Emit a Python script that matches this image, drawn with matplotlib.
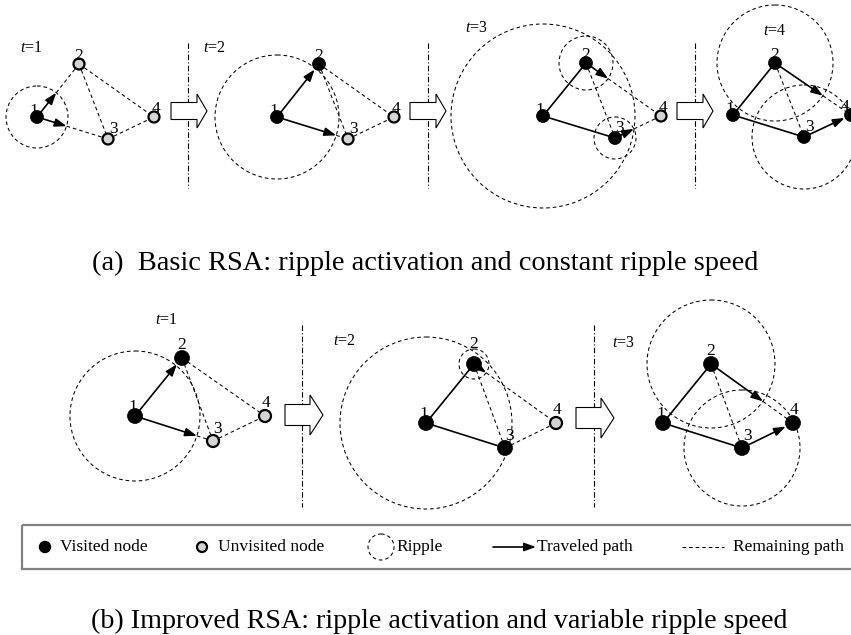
import numpy as np
import matplotlib
matplotlib.use('Agg')
import matplotlib.pyplot as plt
from matplotlib.patches import Circle, Rectangle, FancyArrowPatch, Polygon

plt.rcParams['font.family'] = ['Liberation Serif', 'DejaVu Serif']
plt.rcParams['mathtext.fontset'] = 'custom'
plt.rcParams['mathtext.it'] = 'Liberation Serif:italic'
plt.rcParams['mathtext.rm'] = 'Liberation Serif'

# ---------------- data ----------------
EDGES = [(0, 1), (0, 2), (1, 2), (1, 3), (2, 3)]
NODE_NAMES = ['1', '2', '3', '4']

# (a) basic RSA
A_TIME_LABELS = ['$t$=1', '$t$=2', '$t$=3', '$t$=4']
A_TIME_POS = [(20, 52), (203, 52), (465, 32), (763, 35)]
A_NODES = [
    [(37, 117), (79, 64), (108, 139), (154, 117)],
    [(277, 117), (319, 64), (348, 139), (394, 117)],
    [(543, 116), (586, 63), (615, 138), (661, 116)],
    [(733, 115), (775, 63), (804, 137), (851, 115)],
]
A_VISITED = [[1, 0, 0, 0], [1, 1, 0, 0], [1, 1, 1, 0], [1, 1, 1, 1]]
A_RIPPLES = [[(0, 31)], [(0, 62)], [(0, 92), (1, 27), (2, 21)], [(1, 58), (2, 52)]]
A_EDGE_STATE = [
    ['partial', 'partial', 'dash', 'dash', 'dash'],
    ['arrow', 'partial', 'dash', 'dash', 'dash'],
    ['solid', 'solid', 'dash', 'partial', 'partial'],
    ['solid', 'solid', 'dash', 'partial', 'arrow'],
]
A_SEPARATORS = [188, 428, 695]
A_BLOCK_X = [171, 410, 677]

# (b) improved RSA
B_TIME_LABELS = ['$t$=1', '$t$=2', '$t$=3']
B_TIME_POS = [(155, 324), (333, 345), (612, 347)]
B_NODES = [
    [(135, 416), (182, 358), (213, 441), (265, 416)],
    [(426, 423), (474, 364), (505, 448), (556, 423)],
    [(663, 423), (711, 364), (742, 448), (793, 423)],
]
B_VISITED = [[1, 1, 0, 0], [1, 1, 1, 0], [1, 1, 1, 1]]
B_RIPPLES = [[(0, 65)], [(0, 86), (1, 15)], [(1, 64), (2, 58)]]
B_EDGE_STATE = [
    ['arrow', 'partial', 'dash', 'dash', 'dash'],
    ['solid', 'solid', 'dash', 'partial', 'dash'],
    ['solid', 'solid', 'dash', 'partial', 'arrow'],
]
B_SEPARATORS = [302, 594]
B_BLOCK_X = [285, 576]

LEGEND_LABELS = ['Visited node', 'Unvisited node', 'Ripple', 'Traveled path', 'Remaining path']
CAPTION_A = '(a)  Basic RSA: ripple activation and constant ripple speed'
CAPTION_B = '(b) Improved RSA: ripple activation and variable ripple speed'

# ---------------- drawing ----------------
W, H = 851, 635
fig = plt.figure(figsize=(W / 100, H / 100), dpi=100)
ax = fig.add_axes([0, 0, 1, 1])
ax.set_xlim(0, W)
ax.set_ylim(H, 0)
ax.axis('off')

DASH = (0, (3.5, 2.8))
LW_DASH = 0.75
LW_SOLID = 1.2
GRAY = '#d4d4d4'

A_LABEL_OFFS = [(-3, -2), (0, -4), (5, -6), (2, -4)]
B_LABEL_OFFS = [(-2, -5), (0, -9), (5, -8), (1, -9)]


def arrow(p, q, z=4):
    a = FancyArrowPatch(p, q, arrowstyle='-|>,head_length=0.7,head_width=0.25',
                        mutation_scale=10, lw=LW_SOLID, color='black',
                        shrinkA=0, shrinkB=0, zorder=z)
    ax.add_patch(a)


def draw_panel(nodes, visited, ripples, states, r_black, r_gray, label_pos, label, offs):
    nodes = [np.array(n, float) for n in nodes]
    rip = {}
    for idx, r in ripples:
        rip[idx] = r
        ax.add_patch(Circle(nodes[idx], r, fill=False, ls=DASH, lw=LW_DASH,
                            ec='black', zorder=2))
    for (i, j), st in zip(EDGES, states):
        p, q = nodes[i], nodes[j]
        u = (q - p) / np.linalg.norm(q - p)
        if st == 'dash':
            ax.plot([p[0], q[0]], [p[1], q[1]], ls=DASH, lw=LW_DASH, color='black', zorder=3)
        elif st == 'solid':
            ax.plot([p[0], q[0]], [p[1], q[1]], lw=LW_SOLID, color='black', zorder=3)
        elif st == 'arrow':
            rj = r_black if visited[j] else r_gray
            arrow(tuple(p), tuple(q - u * (rj + 0.5)))
        elif st == 'partial':
            e = p + u * rip[i]
            arrow(tuple(p), tuple(e))
            ax.plot([e[0], q[0]], [e[1], q[1]], ls=DASH, lw=LW_DASH, color='black', zorder=3)
    for k, n in enumerate(nodes):
        if visited[k]:
            ax.add_patch(Circle(n, r_black, fc='black', ec='black', lw=0.5, zorder=5))
        else:
            ax.add_patch(Circle(n, r_gray, fc=GRAY, ec='black', lw=1.6, zorder=5))
        dx, dy = offs[k]
        # a label sitting on a small ripple is lifted above it
        if k in rip and rip[k] < 20:
            dy = -rip[k] - 1
        tx = min(n[0] + dx, W - 6)
        ax.text(tx, n[1] + dy, NODE_NAMES[k], fontsize=12.5,
                ha='center', va='baseline', zorder=6)
    ax.text(label_pos[0], label_pos[1], label, fontsize=11.5, ha='left', va='baseline')


def block_arrow(x0, cy, length, sh, hh, hl):
    pts = [(x0, cy - sh), (x0 + length - hl, cy - sh), (x0 + length - hl, cy - hh),
           (x0 + length, cy), (x0 + length - hl, cy + hh), (x0 + length - hl, cy + sh),
           (x0, cy + sh)]
    ax.add_patch(Polygon(pts, closed=True, fc='white', ec='black', lw=0.8, zorder=7))


def separator(x, y0, y1):
    ax.plot([x, x], [y0, y1], color='black', lw=0.8, ls=(0, (5, 2, 1, 2)), zorder=6)


for k in range(4):
    draw_panel(A_NODES[k], A_VISITED[k], A_RIPPLES[k], A_EDGE_STATE[k], 6.5, 5.5,
               A_TIME_POS[k], A_TIME_LABELS[k], A_LABEL_OFFS)
for x in A_SEPARATORS:
    separator(x, 43, 188)
for x in A_BLOCK_X:
    block_arrow(x, 111, 36, 8.5, 17, 10)

for k in range(3):
    draw_panel(B_NODES[k], B_VISITED[k], B_RIPPLES[k], B_EDGE_STATE[k], 7.5, 6.0,
               B_TIME_POS[k], B_TIME_LABELS[k], B_LABEL_OFFS)
for x in B_SEPARATORS:
    separator(x, 325, 507)
for x, cy in zip(B_BLOCK_X, [415, 418]):
    block_arrow(x, cy, 38, 10.5, 20, 13)

# legend
ax.add_patch(Rectangle((22, 525), 860, 44, fill=False, ec='#808080', lw=1.6, zorder=1))
ly = 547
ax.add_patch(Circle((45, ly), 5.5, fc='black', ec='black', zorder=5))
ax.text(60, ly, LEGEND_LABELS[0], fontsize=12.5, va='center', ha='left')
ax.add_patch(Circle((202, ly), 5.0, fc=GRAY, ec='black', lw=1.6, zorder=5))
ax.text(218, ly, LEGEND_LABELS[1], fontsize=12.5, va='center', ha='left')
ax.add_patch(Circle((381, ly), 13, fill=False, ec='black', ls=DASH, lw=LW_DASH))
ax.text(396, ly, LEGEND_LABELS[2], fontsize=12.5, va='center', ha='left')
arrow((493, ly), (536, ly))
ax.text(537, ly, LEGEND_LABELS[3], fontsize=12.5, va='center', ha='left')
ax.plot([682, 724], [ly, ly], ls=DASH, lw=LW_DASH, color='black')
ax.text(733, ly, LEGEND_LABELS[4], fontsize=12.5, va='center', ha='left')

# captions
ax.text(425, 263, CAPTION_A, fontsize=20.4, ha='center', va='center')
ax.text(439, 621, CAPTION_B, fontsize=20.2, ha='center', va='center')

fig.savefig('out.png', dpi=100)
